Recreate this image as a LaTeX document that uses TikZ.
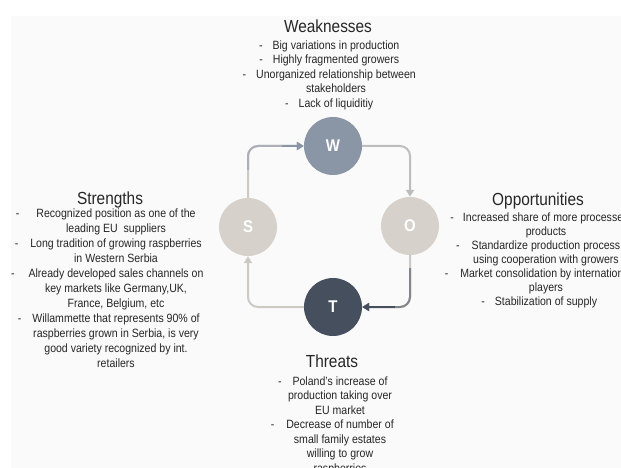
\documentclass[tikz,border=0pt]{standalone}
\usepackage{fontspec}
\setmainfont[FakeStretch=0.88]{Liberation Sans}
\usetikzlibrary{arrows.meta}
\definecolor{wcol}{HTML}{8A95A5}
\definecolor{scol}{HTML}{D6D1CB}
\definecolor{tcol}{HTML}{454F5E}
\definecolor{bg}{HTML}{FAFAFA}
\definecolor{txt}{HTML}{262626}
\definecolor{lline}{HTML}{CDCAC5}
\definecolor{gline}{HTML}{BDBDBD}
\newcommand{\dsh}[1]{\llap{-\hspace{#1pt}}}
\begin{document}
\begin{tikzpicture}[x=1pt,y=-1pt,
 circ/.style={circle,minimum size=58pt,inner sep=0pt,text=white,font=\fontsize{17}{17}\selectfont\bfseries},
 ttl/.style={anchor=base,inner sep=0pt,text=txt,font=\fontsize{17.5}{20}\selectfont},
 body/.style={anchor=north,inner sep=0pt,align=center,text=txt},
 conn/.style={line width=2pt,rounded corners=10pt,-{Triangle[length=7pt,width=8pt]}}]
\useasboundingbox (0,0) rectangle (621,468);
\fill[white] (0,0) rectangle (621,468);
\fill[bg] (11,16) rectangle (621,468);

\node[circ,fill=wcol] (W) at (333,146) {W};
\node[circ,fill=scol] (S) at (248,227) {S};
\node[circ,fill=scol] (O) at (410,226) {O};
\node[circ,fill=tcol] (T) at (333,307) {T};

% S -> W
\coordinate (sw1) at (248,170);
\coordinate (sw2) at (282,146);
\draw[conn,draw=lline] (S.north) |- (W.west);
\draw[conn,draw=scol!45!wcol] (sw1) |- (W.west);
\draw[conn,draw=wcol] (sw2) -- (W.west);
% W -> O
\draw[conn,draw=gline] (W.east) -| (O.north);
% O -> T
\coordinate (ot1) at (410,268);
\coordinate (ot2) at (395,307);
\draw[conn,draw=lline] (O.south) |- (T.east);
\draw[conn,draw=lline!45!tcol] (ot1) |- (T.east);
\draw[conn,draw=tcol] (ot2) -- (T.east);
% T -> S
\draw[conn,draw=lline] (T.west) -| (S.south);

% Weaknesses
\node[ttl] (wt) at (328,32.5) {Weaknesses};
\node[body,font=\fontsize{12}{14.5}\selectfont] (wb) at (336,40.5) {%
\dsh{10}Big variations in production\\
\dsh{10}Highly fragmented growers\\
\dsh{10}Unorganized relationship between\\
stakeholders\\
\dsh{10}Lack of liquiditiy};

% Strengths
\node[ttl] (st) at (110,204) {Strengths};
\node[body,font=\fontsize{12}{15}\selectfont] (sb) at (116,209) {%
\dsh{17}Recognized position as one of the\\
leading EU\ \ suppliers\\
\dsh{12}Long tradition of growing raspberries\\
in Western Serbia\\
\dsh{14}Already developed sales channels on\\
key markets like Germany,UK,\\
France, Belgium, etc\\
\dsh{11}Willammette that represents 90\% of\\
raspberries grown in Serbia, is very\\
good variety recognized by int.\\
retailers};

% Opportunities
\node[ttl] (ot) at (538,205) {Opportunities};
\node[body,font=\fontsize{12}{14}\selectfont] (ob) at (546,212.5) {%
\dsh{9}Increased share of more processed\\
products\\
\dsh{12}Standardize production process\\
using cooperation with growers\\
\dsh{12}Market consolidation by international\\
players\\
\dsh{10}Stabilization of supply};

% Threats
\node[ttl] (tt) at (332,367) {Threats};
\node[body,font=\fontsize{12}{14.5}\selectfont] (tb) at (340,376.5) {%
\dsh{11}Poland’s increase of\\
production taking over\\
EU market\\
\dsh{12}Decrease of number of\\
small family estates\\
willing to grow\\
raspberries};
\end{tikzpicture}
\end{document}
